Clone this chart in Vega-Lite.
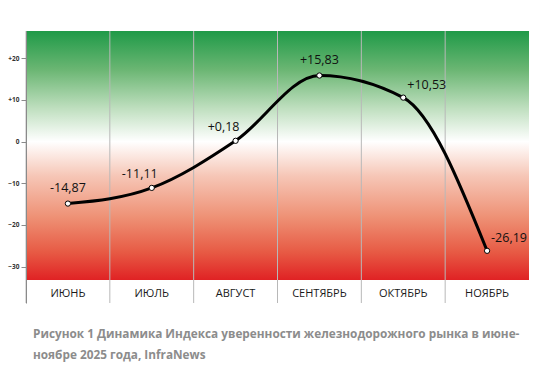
{
  "$schema": "https://vega.github.io/schema/vega-lite/v6.json",
  "width": 503,
  "height": 272,
  "autosize": "none",
  "padding": {"left": 26, "top": 31, "right": 26, "bottom": 67},
  "background": "#ffffff",
  "config": {"view": {"stroke": null}, "font": "Open Sans"},
  "title": {
    "text": ["Рисунок 1 Динамика Индекса уверенности железнодорожного рынка в июне-", "ноябре 2025 года, InfraNews"],
    "orient": "bottom",
    "anchor": "start",
    "frame": "group",
    "dx": 7,
    "offset": 25,
    "font": "Open Sans",
    "fontSize": 11.8,
    "fontWeight": "bold",
    "color": "#8c8c8c",
    "lineHeight": 21
  },
  "data": {
    "values": [
      {"m": "ИЮНЬ", "v": -14.87, "lbl": "-14,87"},
      {"m": "ИЮЛЬ", "v": -11.11, "lbl": "-11,11"},
      {"m": "АВГУСТ", "v": 0.18, "lbl": "+0,18"},
      {"m": "СЕНТЯБРЬ", "v": 15.83, "lbl": "+15,83"},
      {"m": "ОКТЯБРЬ", "v": 10.53, "lbl": "+10,53"},
      {"m": "НОЯБРЬ", "v": -26.19, "lbl": "-26,19"}
    ]
  },
  "encoding": {
    "x": {
      "field": "m", "type": "nominal", "sort": null,
      "scale": {"type": "band", "paddingInner": 0, "paddingOuter": 0},
      "axis": {"title": null, "domain": false, "ticks": false, "tickSize": 0, "grid": false,
               "labelAngle": 0, "labelBaseline": "middle", "labelPadding": -10,
               "labelFontSize": 11, "labelColor": "#1a1a1a", "labelFont": "Open Sans"}
    }
  },
  "layer": [
    {
      "mark": {"type": "rect", "fill": {"gradient": "linear", "x1": 0, "y1": 0, "x2": 0, "y2": 1,
        "stops": [
          {"offset": 0, "color": "#1f9a48"},
          {"offset": 0.35, "color": "#6bb673"},
          {"offset": 0.7, "color": "#bfdfbf"},
          {"offset": 1, "color": "#ffffff"}
        ]}},
      "encoding": {
        "x": {"value": 0}, "x2": {"value": "width"},
        "y": {"datum": 26.5, "type": "quantitative"}, "y2": {"datum": 0}
      }
    },
    {
      "mark": {"type": "rect", "fill": {"gradient": "linear", "x1": 0, "y1": 0, "x2": 0, "y2": 1,
        "stops": [
          {"offset": 0, "color": "#ffffff"},
          {"offset": 0.25, "color": "#f6c6b6"},
          {"offset": 0.55, "color": "#ee9074"},
          {"offset": 0.8, "color": "#e75a44"},
          {"offset": 1, "color": "#e02224"}
        ]}},
      "encoding": {
        "x": {"value": 0}, "x2": {"value": "width"},
        "y": {"datum": 0, "type": "quantitative"}, "y2": {"datum": -33.2}
      }
    },
    {
      "mark": {"type": "rule", "color": "#b8b8b8", "strokeWidth": 1},
      "encoding": {
        "x": {"field": "m", "type": "nominal", "sort": null, "bandPosition": 0},
        "y": {"value": 0}, "y2": {"value": "height"}
      }
    },
    {
      "mark": {"type": "rule", "color": "#7a7a7a", "strokeWidth": 1},
      "encoding": {"y": {"datum": 0, "type": "quantitative"}}
    },
    {
      "mark": {"type": "line", "color": "#000000", "strokeWidth": 3, "interpolate": "monotone"},
      "encoding": {
        "y": {
          "field": "v", "type": "quantitative",
          "scale": {"domain": [-38.7, 26.5], "nice": false, "zero": false},
          "axis": {"title": null, "values": [-30, -20, -10, 0, 10, 20], "grid": false,
                   "domainColor": "#8a8a8a", "tickColor": "#8a8a8a", "tickSize": 5,
                   "labelFontSize": 6.5, "labelFontWeight": "bold", "labelColor": "#333333",
                   "labelPadding": 2, "zindex": 1,
                   "labelExpr": "datum.value > 0 ? '+' + datum.label : datum.label"}
        }
      }
    },
    {
      "mark": {"type": "point", "filled": true, "fill": "#ffffff", "stroke": "#000000", "strokeWidth": 1, "size": 28, "opacity": 1},
      "encoding": {"y": {"field": "v", "type": "quantitative"}}
    },
    {
      "transform": [{"filter": {"field": "m", "oneOf": ["ИЮНЬ", "СЕНТЯБРЬ"]}}],
      "mark": {"type": "text", "fontSize": 12.5, "color": "#111111", "dy": -16, "font": "Open Sans"},
      "encoding": {"y": {"field": "v", "type": "quantitative"}, "text": {"field": "lbl"}}
    },
    {
      "transform": [{"filter": {"field": "m", "oneOf": ["ИЮЛЬ", "АВГУСТ"]}}],
      "mark": {"type": "text", "fontSize": 12.5, "color": "#111111", "dx": -12, "dy": -14, "font": "Open Sans"},
      "encoding": {"y": {"field": "v", "type": "quantitative"}, "text": {"field": "lbl"}}
    },
    {
      "transform": [{"filter": {"field": "m", "oneOf": ["ОКТЯБРЬ", "НОЯБРЬ"]}}],
      "mark": {"type": "text", "fontSize": 12.5, "color": "#111111", "align": "left", "dx": 4, "dy": -13, "font": "Open Sans"},
      "encoding": {"y": {"field": "v", "type": "quantitative"}, "text": {"field": "lbl"}}
    }
  ]
}
